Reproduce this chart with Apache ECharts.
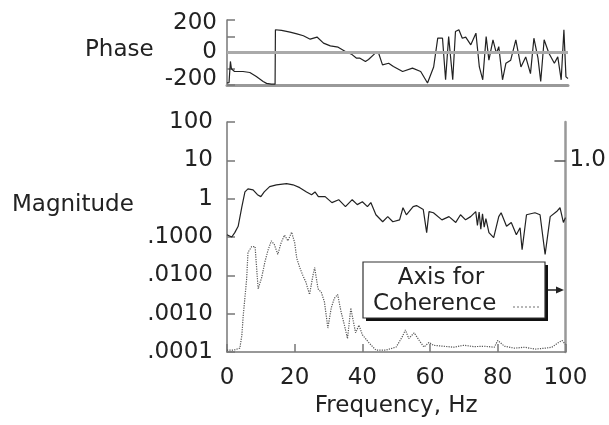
<!DOCTYPE html>
<html><head><meta charset="utf-8">
<script src="https://cdn.jsdelivr.net/npm/echarts@6/dist/echarts.min.js"></script>
<style>html,body{margin:0;padding:0;background:#fff}#c{width:609px;height:425px}</style>
</head><body><div id="c"></div>
<script>
// ---- data ----
const freqTicks = [0, 20, 40, 60, 80, 100];
const magTickLabels = ['.0001', '.0010', '.0100', '.1000', '1', '10', '100'];
const phaseTickLabels = ['-200', '0', '200'];
const cohTickLabels = ['1.0'];

const phaseFreq = [0, 0.6, 1.0, 1.3, 1.7, 2.2, 4.7, 6.7, 8.6, 10.6, 11.6, 13, 14.1, 14.2, 16, 18.5, 20.5, 22.4, 24.4, 26.4, 28.3, 30.3, 32.6, 34.7, 36.5, 38, 39, 40.6, 41.5, 43.5, 44.4, 45.6, 47.4, 48.8, 51.5, 54.4, 56.8, 58.8, 60.6, 61.8, 63.2, 64.1, 65, 66.2, 67, 68, 69, 70, 71.5, 73, 74, 75, 76, 76.8, 78, 79, 79.7, 80.8, 81.8, 83.2, 84.7, 86.2, 87.6, 89, 90, 91.2, 92, 93, 94.4, 96, 97, 98, 98.8, 99.4, 100];
const phaseDeg = [-187, -185, -55, -100, -95, -117, -117, -123, -148, -178, -190, -195, -195, 140, 136, 125, 115, 103, 82, 95, 58, 41, 33, 6, -10, -35, -35, -55, -43, -4, 0, -76, -66, -86, -117, -96, -117, -188, -89, 88, 88, -168, 98, -168, 129, 140, 88, 95, 47, 119, -89, -168, 98, -47, 78, -5, 36, -168, -66, -47, 78, -89, -27, -130, 88, -35, -178, 78, -5, -66, -27, -168, 140, -150, -160];

const magFreq = [0, 1.4, 2.3, 3.3, 4.4, 5.3, 6.2, 7.7, 9, 10, 11, 12.6, 14.6, 17.6, 19.5, 21.5, 23.5, 25, 26, 27, 29, 31, 33, 35, 37, 38.5, 40, 41.5, 42.5, 44, 46, 47.5, 49, 51, 52, 53, 55, 56, 58, 59, 59.7, 61, 63.5, 65.6, 67.6, 69, 70.5, 72, 73.5, 74, 74.5, 75, 75.5, 76, 76.5, 77.4, 78.8, 80.3, 81, 82.6, 84, 85.5, 86.6, 87.2, 88.5, 91, 92.5, 94, 95.5, 97.4, 98.4, 99.4, 100];
const magValue = [0.115, 0.10, 0.13, 0.19, 0.62, 1.5, 1.8, 1.7, 1.27, 1.13, 1.5, 2.06, 2.3, 2.46, 2.3, 1.94, 1.5, 1.27, 1.5, 1.13, 1.13, 0.79, 0.94, 0.62, 0.94, 0.70, 0.83, 0.62, 0.79, 0.38, 0.25, 0.34, 0.25, 0.28, 0.58, 0.38, 0.62, 0.66, 0.52, 0.13, 0.46, 0.43, 0.28, 0.34, 0.24, 0.38, 0.28, 0.34, 0.46, 0.2, 0.45, 0.16, 0.4, 0.18, 0.3, 0.13, 0.096, 0.34, 0.43, 0.19, 0.24, 0.115, 0.175, 0.047, 0.38, 0.43, 0.38, 0.035, 0.34, 0.46, 0.58, 0.24, 0.32];

const cohFreq = [0, 2, 3.8, 4.4, 4.8, 5.8, 6.2, 7.3, 8.3, 9.2, 10.2, 11.2, 12.1, 13.1, 14, 15, 16, 17, 18, 19.1, 20, 20.6, 21.5, 22.4, 23.3, 24.4, 25.4, 25.9, 26.9, 27.9, 28.8, 29.8, 30.8, 31.7, 32.7, 33.7, 34.7, 35.6, 36.6, 37, 38, 39, 40, 42, 44, 47, 50, 51.8, 52.7, 53.7, 55.3, 56.8, 58.2, 59.7, 61, 64, 67, 70, 73, 76, 79, 80, 82, 85, 88, 91, 94, 96, 98, 99, 100];
const cohValue = [0.01, 0.01, 0.02, 0.09, 0.19, 0.38, 0.52, 0.55, 0.55, 0.33, 0.385, 0.47, 0.53, 0.58, 0.56, 0.51, 0.57, 0.61, 0.58, 0.625, 0.57, 0.49, 0.44, 0.40, 0.365, 0.30, 0.40, 0.44, 0.33, 0.31, 0.26, 0.125, 0.23, 0.28, 0.30, 0.21, 0.14, 0.07, 0.23, 0.19, 0.10, 0.14, 0.09, 0.047, 0.01, 0.01, 0.026, 0.08, 0.115, 0.07, 0.10, 0.06, 0.026, 0.05, 0.035, 0.03, 0.025, 0.035, 0.028, 0.03, 0.025, 0.06, 0.03, 0.02, 0.025, 0.015, 0.02, 0.025, 0.05, 0.06, 0.04];

// ---- chart ----
const FONT = 'DejaVu Sans';
const TXT = '#222';
const AX = '#777';
const zip = (a, b) => a.map((v, i) => [v, b[i]]);

const chart = echarts.init(document.getElementById('c'), null, {renderer: 'canvas'});
chart.setOption({
  animation: false,
  backgroundColor: '#fff',
  textStyle: {fontFamily: FONT},
  grid: [
    {left: 227, right: 41, top: 20, height: 65},
    {left: 227, right: 42, top: 122, height: 230}
  ],
  xAxis: [
    {gridIndex: 0, type: 'value', min: 0, max: 100, interval: 20,
     axisLine: {onZero: false, lineStyle: {color: '#999', width: 3}},
     axisTick: {show: false}, axisLabel: {show: false}, splitLine: {show: false}},
    {gridIndex: 1, type: 'value', min: 0, max: 100, interval: 20,
     name: 'Frequency, Hz', nameLocation: 'middle', nameGap: 43,
     nameTextStyle: {fontSize: 23, color: TXT, fontFamily: FONT},
     axisLine: {onZero: false, lineStyle: {color: AX, width: 1.5}},
     axisTick: {inside: true, length: 8, lineStyle: {color: AX, width: 1.5}},
     axisLabel: {fontSize: 23, color: TXT, margin: 15, fontFamily: FONT,
       formatter: v => freqTicks.includes(v) ? String(v) : ''},
     splitLine: {show: false}}
  ],
  yAxis: [
    {gridIndex: 0, type: 'value', min: -200, max: 200, interval: 100,
     axisLine: {show: true, lineStyle: {color: AX, width: 1.5}},
     axisTick: {show: true, inside: true, length: 8, lineStyle: {color: AX, width: 1.5}},
     axisLabel: {fontSize: 23, color: TXT, margin: 10, fontFamily: FONT,
       formatter: v => {
         const s = String(v);
         if (!phaseTickLabels.includes(s)) return '';
         if (v > 0) return '{hi|' + s + '}';
         if (v < 0) return '{lo|' + s + '}';
         return s;
       },
       rich: {
         hi: {fontSize: 23, color: TXT, fontFamily: FONT, padding: [6, 0, 0, 0]},
         lo: {fontSize: 23, color: TXT, fontFamily: FONT, padding: [0, 0, 12, 0]}
       }},
     splitLine: {show: false}},
    {gridIndex: 1, type: 'log', logBase: 10, min: 0.0001, max: 100, splitNumber: 6,
     axisLine: {show: true, lineStyle: {color: AX, width: 1.5}},
     axisTick: {show: true, inside: true, length: 8, lineStyle: {color: AX, width: 1.5}},
     axisLabel: {fontSize: 23, color: TXT, margin: 14, fontFamily: FONT,
       formatter: v => magTickLabels[Math.round(Math.log10(v)) + 4] || ''},
     splitLine: {show: false}},
    {gridIndex: 1, type: 'value', position: 'right', min: 0, max: 1.2,
     axisLine: {show: true, lineStyle: {color: '#999', width: 2.5}},
     axisTick: {show: true, inside: true, length: 11, customValues: [1.0], lineStyle: {color: '#555', width: 1.5}},
     axisLabel: {fontSize: 23, color: TXT, margin: 4, fontFamily: FONT, customValues: [1.0],
       formatter: () => cohTickLabels[0]},
     splitLine: {show: false}}
  ],
  series: [
    {type: 'line', xAxisIndex: 0, yAxisIndex: 0, data: zip(phaseFreq, phaseDeg),
     showSymbol: false, lineStyle: {color: '#222', width: 1.2},
     markLine: {silent: true, symbol: 'none', label: {show: false},
       lineStyle: {color: '#aaa', width: 3, type: 'solid'}, data: [{yAxis: 0}]}},
    {type: 'line', xAxisIndex: 1, yAxisIndex: 1, data: zip(magFreq, magValue),
     showSymbol: false, lineStyle: {color: '#222', width: 1.2}},
    {type: 'line', xAxisIndex: 1, yAxisIndex: 2, data: zip(cohFreq, cohValue),
     showSymbol: false, lineStyle: {color: '#555', width: 1.2, type: 'dotted'}}
  ],
  graphic: [
    {type: 'text', left: 12, top: 194, style: {text: 'Magnitude', font: '23px "DejaVu Sans"', fill: TXT}},
    {type: 'text', left: 85, top: 39, style: {text: 'Phase', font: '23px "DejaVu Sans"', fill: TXT}},
    {type: 'rect', shape: {x: 366, y: 265, width: 182, height: 56}, style: {fill: '#111'}},
    {type: 'rect', shape: {x: 363, y: 262, width: 182, height: 56}, style: {fill: '#fff', stroke: '#333', lineWidth: 1.2}},
    {type: 'text', x: 441, y: 267, style: {text: 'Axis for', font: '23px "DejaVu Sans"', fill: TXT, align: 'center'}},
    {type: 'text', x: 373, y: 293, style: {text: 'Coherence', font: '23px "DejaVu Sans"', fill: TXT}},
    {type: 'line', shape: {x1: 513, y1: 307, x2: 539, y2: 307}, style: {stroke: '#888', lineWidth: 1.2, lineDash: [2, 2]}},
    {type: 'line', shape: {x1: 548, y1: 290, x2: 558, y2: 290}, style: {stroke: '#222', lineWidth: 1.5}},
    {type: 'polygon', shape: {points: [[556, 286.5], [564, 290], [556, 293.5]]}, style: {fill: '#222'}}
  ]
});
</script>
</body></html>
